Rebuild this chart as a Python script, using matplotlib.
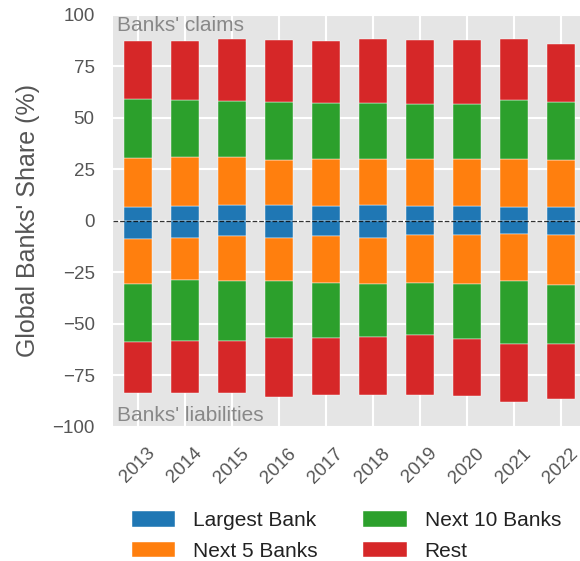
import numpy as np
import matplotlib
matplotlib.use("Agg")
import matplotlib.pyplot as plt

plt.rcParams['font.family'] = ['Liberation Sans', 'DejaVu Sans']

years = ['2013', '2014', '2015', '2016', '2017', '2018', '2019', '2020', '2021', '2022']

# claims side (positive)
claims_largest = [6.8, 7.3, 7.5, 7.5, 7.1, 7.5, 7.1, 7.1, 6.8, 6.8]
claims_next5 = [23.7, 23.5, 23.6, 22.0, 22.7, 22.3, 23.0, 22.9, 23.2, 22.9]
claims_next10 = [28.8, 27.9, 27.1, 28.2, 27.6, 27.6, 26.6, 26.9, 28.8, 28.0]
claims_rest = [28.3, 28.7, 30.1, 30.3, 30.1, 30.8, 31.1, 30.8, 29.7, 28.1]

# liabilities side (negative)
liab_largest = [-9.0, -8.3, -7.3, -8.1, -7.6, -8.1, -7.0, -7.1, -6.6, -7.0]
liab_next5 = [-21.9, -20.5, -22.0, -21.2, -22.4, -22.8, -23.0, -23.8, -22.7, -24.4]
liab_next10 = [-28.0, -29.4, -28.9, -27.7, -26.7, -25.5, -25.6, -26.6, -30.6, -28.5]
liab_rest = [-24.9, -25.2, -25.6, -28.6, -27.7, -28.0, -28.8, -27.7, -27.9, -26.6]

labels = ['Largest Bank', 'Next 5 Banks', 'Next 10 Banks', 'Rest']
colors = ['#1f77b4', '#ff7f0e', '#2ca02c', '#d62728']

fig = plt.figure(figsize=(5.8, 5.61), dpi=100)
ax = fig.add_axes([0.1943, 0.2394, 0.8057, 0.7339])
ax.set_facecolor('#E5E5E5')
for s in ax.spines.values():
    s.set_visible(False)
ax.grid(True, color='white', linewidth=1.5)
ax.set_axisbelow(True)

x = np.arange(len(years))
w = 0.6

pos = [claims_largest, claims_next5, claims_next10, claims_rest]
neg = [liab_largest, liab_next5, liab_next10, liab_rest]

bottom = np.zeros(len(years))
for vals, c, lab in zip(pos, colors, labels):
    ax.bar(x, vals, w, bottom=bottom, color=c, label=lab, edgecolor='white', linewidth=0.3)
    bottom = bottom + np.array(vals)

bottom = np.zeros(len(years))
for vals, c in zip(neg, colors):
    ax.bar(x, vals, w, bottom=bottom, color=c, edgecolor='white', linewidth=0.3)
    bottom = bottom + np.array(vals)

ax.axhline(0, color='black', linestyle='--', linewidth=0.9, alpha=0.8)

ax.set_xlim(-0.53, 9.41)
ax.set_ylim(-100, 100)
ax.set_yticks([-100, -75, -50, -25, 0, 25, 50, 75, 100])
ax.set_xticks(x)
ax.set_xticklabels(years, rotation=45)
ax.tick_params(axis='y', length=0, pad=13, labelsize=13.5, labelcolor='#555555')
ax.tick_params(axis='x', length=0, pad=13, labelsize=13.5, labelcolor='#555555')
ax.set_ylabel("Global Banks' Share (%)", fontsize=18, color='#555555', labelpad=9)

ax.text(0.01, 0.997, "Banks' claims", transform=ax.transAxes, fontsize=15,
        color='#888888', va='top', ha='left')
ax.text(0.01, 0.003, "Banks' liabilities", transform=ax.transAxes, fontsize=15,
        color='#888888', va='bottom', ha='left')

ax.legend(loc='upper center', bbox_to_anchor=(0.5, -0.16), ncol=2, frameon=False,
          fontsize=15, handlelength=2.1, handleheight=0.77, handletextpad=0.87,
          columnspacing=2.15, labelspacing=0.55, labelcolor='#222222')

fig.savefig('out.png', dpi=100)
